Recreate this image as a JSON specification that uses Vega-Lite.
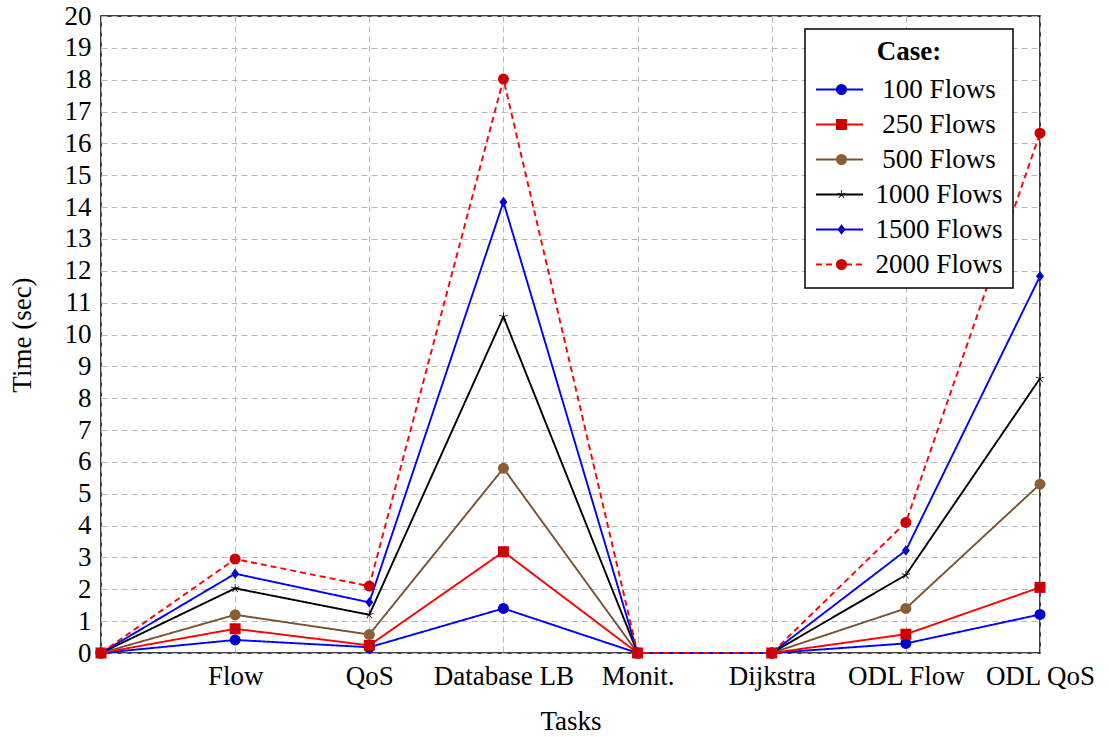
{
  "$schema": "https://vega.github.io/schema/vega-lite/v6.json",
  "width": 939,
  "height": 637,
  "autosize": "none",
  "padding": {"left": 101, "top": 16, "right": 69, "bottom": 84},
  "background": "white",
  "config": {
    "font": "Liberation Serif",
    "view": {"stroke": "black", "strokeWidth": 1.5},
    "axis": {
      "labelFont": "Liberation Serif", "labelFontSize": 27, "labelColor": "black",
      "titleFont": "Liberation Serif", "titleFontSize": 27, "titleFontWeight": "normal", "titleColor": "black",
      "domain": false, "ticks": false, "grid": true, "gridColor": "#b8b8b8", "gridDash": [6, 4], "gridWidth": 1
    },
    "legend": {
      "labelFont": "Liberation Serif", "labelFontSize": 27, "labelColor": "black",
      "titleFont": "Liberation Serif", "titleFontSize": 27, "titleFontWeight": "bold", "titleColor": "black"
    }
  },
  "data": {"values": [
    {"case": "100 Flows", "task": "0", "time": 0},
    {"case": "100 Flows", "task": "Flow", "time": 0.41},
    {"case": "100 Flows", "task": "QoS", "time": 0.18},
    {"case": "100 Flows", "task": "Database LB", "time": 1.4},
    {"case": "100 Flows", "task": "Monit.", "time": 0},
    {"case": "100 Flows", "task": "Dijkstra", "time": 0},
    {"case": "100 Flows", "task": "ODL Flow", "time": 0.3},
    {"case": "100 Flows", "task": "ODL QoS", "time": 1.21},
    {"case": "250 Flows", "task": "0", "time": 0},
    {"case": "250 Flows", "task": "Flow", "time": 0.76},
    {"case": "250 Flows", "task": "QoS", "time": 0.24},
    {"case": "250 Flows", "task": "Database LB", "time": 3.18},
    {"case": "250 Flows", "task": "Monit.", "time": 0},
    {"case": "250 Flows", "task": "Dijkstra", "time": 0},
    {"case": "250 Flows", "task": "ODL Flow", "time": 0.59},
    {"case": "250 Flows", "task": "ODL QoS", "time": 2.06},
    {"case": "500 Flows", "task": "0", "time": 0},
    {"case": "500 Flows", "task": "Flow", "time": 1.2},
    {"case": "500 Flows", "task": "QoS", "time": 0.58},
    {"case": "500 Flows", "task": "Database LB", "time": 5.8},
    {"case": "500 Flows", "task": "Monit.", "time": 0},
    {"case": "500 Flows", "task": "Dijkstra", "time": 0},
    {"case": "500 Flows", "task": "ODL Flow", "time": 1.4},
    {"case": "500 Flows", "task": "ODL QoS", "time": 5.3},
    {"case": "1000 Flows", "task": "0", "time": 0},
    {"case": "1000 Flows", "task": "Flow", "time": 2.03},
    {"case": "1000 Flows", "task": "QoS", "time": 1.2},
    {"case": "1000 Flows", "task": "Database LB", "time": 10.56},
    {"case": "1000 Flows", "task": "Monit.", "time": 0},
    {"case": "1000 Flows", "task": "Dijkstra", "time": 0},
    {"case": "1000 Flows", "task": "ODL Flow", "time": 2.45},
    {"case": "1000 Flows", "task": "ODL QoS", "time": 8.62},
    {"case": "1500 Flows", "task": "0", "time": 0},
    {"case": "1500 Flows", "task": "Flow", "time": 2.49},
    {"case": "1500 Flows", "task": "QoS", "time": 1.59},
    {"case": "1500 Flows", "task": "Database LB", "time": 14.16},
    {"case": "1500 Flows", "task": "Monit.", "time": 0},
    {"case": "1500 Flows", "task": "Dijkstra", "time": 0},
    {"case": "1500 Flows", "task": "ODL Flow", "time": 3.22},
    {"case": "1500 Flows", "task": "ODL QoS", "time": 11.83},
    {"case": "2000 Flows", "task": "0", "time": 0},
    {"case": "2000 Flows", "task": "Flow", "time": 2.95},
    {"case": "2000 Flows", "task": "QoS", "time": 2.1},
    {"case": "2000 Flows", "task": "Database LB", "time": 18.02},
    {"case": "2000 Flows", "task": "Monit.", "time": 0},
    {"case": "2000 Flows", "task": "Dijkstra", "time": 0},
    {"case": "2000 Flows", "task": "ODL Flow", "time": 4.1},
    {"case": "2000 Flows", "task": "ODL QoS", "time": 16.32}
  ]},
  "encoding": {
    "x": {
      "field": "task", "type": "nominal",
      "scale": {"type": "point", "padding": 0, "domain": ["0", "Flow", "QoS", "Database LB", "Monit.", "Dijkstra", "ODL Flow", "ODL QoS"]},
      "axis": {"title": "Tasks", "labelAngle": 0, "labelPadding": 10, "titlePadding": 19, "labelOverlap": false, "labelExpr": "datum.value == '0' ? '' : datum.value"}
    },
    "y": {
      "field": "time", "type": "quantitative",
      "scale": {"domain": [0, 20], "nice": false},
      "axis": {"title": "Time (sec)", "values": [0,1,2,3,4,5,6,7,8,9,10,11,12,13,14,15,16,17,18,19,20], "labelPadding": 10, "titlePadding": 28}
    }
  },
  "layer": [
    {
      "mark": {"type": "line", "strokeWidth": 1.9},
      "encoding": {
        "order": {"value": null},
        "color": {
          "field": "case", "type": "nominal",
          "scale": {"domain": ["100 Flows", "250 Flows", "500 Flows", "1000 Flows", "1500 Flows", "2000 Flows"], "range": ["#0000ff", "#ff0000", "#7a5230", "#000000", "#0000ff", "#ff0000"]},
          "legend": {"title": "Case:", "orient": "none", "legendX": 704, "legendY": 13, "symbolType": "stroke", "symbolSize": 2209, "symbolStrokeWidth": 1.9, "fillColor": "white", "strokeColor": "black", "padding": 10, "titleAnchor": "middle", "labelAlign": "center", "labelOffset": 75, "rowPadding": 7, "titlePadding": 10, "clipHeight": 27, "encode": {"legend": {"update": {"strokeWidth": {"value": 1.5}}}}}
        },
        "strokeDash": {
          "field": "case", "type": "nominal",
          "scale": {"domain": ["100 Flows", "250 Flows", "500 Flows", "1000 Flows", "1500 Flows", "2000 Flows"], "range": [[1, 0], [1, 0], [1, 0], [1, 0], [1, 0], [6, 4]]},
          "legend": {"title": "Case:", "orient": "none", "legendX": 704, "legendY": 13, "symbolType": "stroke", "symbolSize": 2209, "symbolStrokeWidth": 1.9, "fillColor": "white", "strokeColor": "black", "padding": 10, "titleAnchor": "middle", "labelAlign": "center", "labelOffset": 75, "rowPadding": 7, "titlePadding": 10, "clipHeight": 27}
        }
      }
    },
    {
      "mark": {"type": "point", "filled": true, "size": 121, "opacity": 1},
      "encoding": {
        "color": {
          "field": "case", "type": "nominal",
          "scale": {"domain": ["100 Flows", "250 Flows", "500 Flows", "1000 Flows", "1500 Flows", "2000 Flows"], "range": ["#0000cc", "#cc0000", "#8a5f35", "#000000", "#0000cc", "#cc0000"]},
          "legend": {"title": null, "orient": "none", "legendX": 717, "legendY": 50, "symbolSize": 121, "padding": 10, "labelExpr": "''", "rowPadding": 7, "clipHeight": 27}
        },
        "shape": {
          "field": "case", "type": "nominal",
          "scale": {"domain": ["100 Flows", "250 Flows", "500 Flows", "1000 Flows", "1500 Flows", "2000 Flows"], "range": ["circle", "square", "circle", "M0.07,0L0.07,-0.8L-0.07,-0.8L-0.07,0Z M0.022,0.067L0.783,-0.18L0.739,-0.314L-0.022,-0.067Z M-0.057,0.041L0.413,0.688L0.527,0.606L0.057,-0.041Z M-0.057,-0.041L-0.527,0.606L-0.413,0.688L0.057,0.041Z M0.022,-0.067L-0.739,-0.314L-0.783,-0.18L-0.022,0.067Z", "M0,-0.95L0.72,0L0,0.95L-0.72,0Z", "circle"]},
          "legend": {"title": null, "orient": "none", "legendX": 717, "legendY": 50, "symbolSize": 121, "padding": 10, "labelExpr": "''", "rowPadding": 7, "clipHeight": 27}
        }
      }
    }
  ],
  "resolve": {
    "scale": {"color": "independent", "shape": "independent", "strokeDash": "independent"},
    "legend": {"color": "independent", "shape": "independent", "strokeDash": "independent"}
  }
}
